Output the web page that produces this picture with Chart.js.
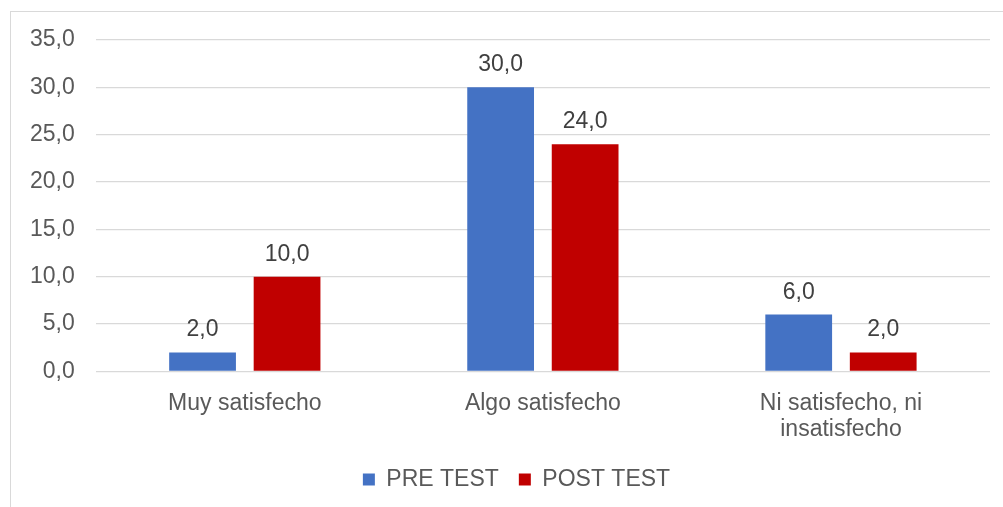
<!DOCTYPE html>
<html>
<head>
<meta charset="utf-8">
<script src="https://cdn.jsdelivr.net/npm/chart.js@4"></script>
<style>
    html, body { margin: 0; padding: 0; background: #fff; }
    #wrap { position: relative; width: 1003px; height: 507px; overflow: hidden; }
    #frame {
        position: absolute; left: 10px; top: 11px; width: 1100px; height: 600px;
        border-left: 1px solid #d9d9d9; border-top: 1px solid #d9d9d9;
    }
    #chart { position: absolute; left: 0; top: 0; }
</style>
</head>
<body>
<div id="wrap">
    <div id="frame"></div>
    <canvas id="chart" width="1003" height="507"></canvas>
</div>
<script>
// Satisfaction levels, before and after
const categories = ['Muy satisfecho', 'Algo satisfecho', ['Ni satisfecho, ni', 'insatisfecho']];
const preTest = [2, 30, 6];
const postTest = [10, 24, 2];
const seriesNames = ['PRE TEST', 'POST TEST'];

const FONT = 'Liberation Sans, Arial, sans-serif';

/**
 * Format a number with one decimal and a comma separator
 * @param {number} v
 * @returns {string}
 */
function fmt(v) {
    return Number(v).toFixed(1).replace('.', ',');
}

// Writes the value above every bar
const valueLabels = {
    id: 'valueLabels',
    afterDatasetsDraw(chart) {
        const ctx = chart.ctx;
        ctx.save();
        ctx.font = '23px ' + FONT;
        ctx.fillStyle = '#404040';
        ctx.textAlign = 'center';
        ctx.textBaseline = 'alphabetic';
        chart.data.datasets.forEach((ds, i) => {
            chart.getDatasetMeta(i).data.forEach((bar, j) => {
                ctx.fillText(fmt(ds.data[j]), bar.x, bar.y - 16);
            });
        });
        ctx.restore();
    }
};

// Nudges the legend box a little right and up once the layout is done
const legendOffset = {
    id: 'legendOffset',
    afterLayout(chart) {
        const lg = chart.legend;
        if (!lg) return;
        lg.left += 17; lg.right += 17;
        lg.top -= 6; lg.bottom -= 6;
    }
};

const data = {
    labels: categories,
    datasets: [{
        label: seriesNames[0],
        data: preTest,
        backgroundColor: '#4472C4',
        categoryPercentage: 0.567,
        barPercentage: 0.79
    }, {
        label: seriesNames[1],
        data: postTest,
        backgroundColor: '#C00000',
        categoryPercentage: 0.567,
        barPercentage: 0.79
    }]
};

const config = {
    type: 'bar',
    data: data,
    plugins: [valueLabels, legendOffset],
    options: {
        responsive: false,
        animation: false,
        layout: {
            padding: { top: 40, right: 13, bottom: 0, left: 9 }
        },
        plugins: {
            tooltip: { enabled: false },
            legend: {
                position: 'bottom',
                labels: {
                    boxWidth: 12,
                    boxHeight: 12,
                    padding: 20,
                    color: '#595959',
                    font: { family: FONT, size: 23 }
                }
            }
        },
        scales: {
            x: {
                grid: { display: false },
                border: { display: false },
                ticks: {
                    color: '#595959',
                    padding: 12,
                    maxRotation: 0,
                    font: { family: FONT, size: 23, lineHeight: 1.1 }
                }
            },
            y: {
                min: 0,
                max: 35,
                grid: { color: '#d9d9d9', lineWidth: 1.3, drawTicks: false },
                border: { display: false },
                ticks: {
                    stepSize: 5,
                    color: '#595959',
                    padding: 21,
                    font: { family: FONT, size: 23 },
                    callback: (v) => fmt(v)
                }
            }
        }
    }
};

new Chart(document.getElementById('chart').getContext('2d'), config);
</script>
</body>
</html>
